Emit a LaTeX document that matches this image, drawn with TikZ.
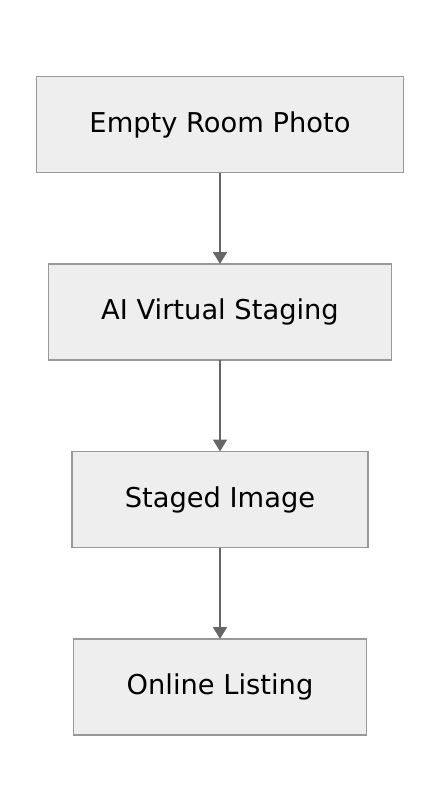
\documentclass[tikz,border=0pt]{standalone}
\usepackage{fontspec}
\setmainfont{DejaVu Sans}
\usetikzlibrary{positioning,arrows.meta}
\definecolor{boxfill}{HTML}{EEEEEE}
\definecolor{boxline}{HTML}{999999}
\definecolor{flowline}{HTML}{666666}
\tikzset{
  stagebox/.style={draw=boxline,fill=boxfill,line width=1.5pt,minimum height=96pt,
    inner xsep=0pt,outer sep=0pt,font=\fontsize{27.3}{31}\selectfont},
  flow/.style={draw=flowline,line width=1.6pt,-{Triangle[length=12pt,width=14pt]}}
}
\begin{document}
\begin{tikzpicture}[x=1pt,y=-1pt]
\useasboundingbox (0,0) rectangle (440,812);
\node[stagebox,minimum width=367pt] (photo) at (220,124.5) {Empty Room Photo};
\node[stagebox,minimum width=343pt,below=91.5pt of photo] (staging) {AI Virtual Staging};
\node[stagebox,minimum width=296pt,below=91.5pt of staging] (staged) {Staged Image};
\node[stagebox,minimum width=293pt,below=91.5pt of staged] (listing) {Online Listing};
\draw[flow] (photo) -- (staging);
\draw[flow] (staging) -- (staged);
\draw[flow] (staged) -- (listing);
\end{tikzpicture}
\end{document}
